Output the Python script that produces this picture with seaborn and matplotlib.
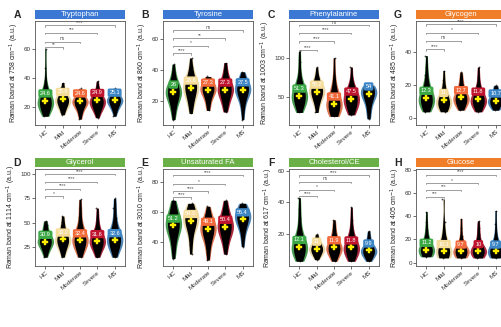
import numpy as np
import pandas as pd
import seaborn as sns
from matplotlib import pyplot as plt
from matplotlib.patches import Rectangle

sns.set_style('white')
plt.rcParams['font.family'] = ['Liberation Sans', 'DejaVu Sans']

groups = ['HC', 'Mild', 'Moderate', 'Severe', 'MS']
colors = ['#3aa845', '#f6dc9a', '#f26a3b', '#c0152f', '#3d86c6']

# panel A - Tryptophan
trp_hc = [14, 16, 18, 19, 20, 21, 22, 22, 23, 23, 24, 24, 25, 25, 26, 27, 28, 30, 33, 38, 47, 60]
trp_mild = [15, 17, 19, 20, 21, 22, 23, 24, 24, 25, 25, 26, 26, 27, 28, 29, 31, 34, 37]
trp_mod = [12, 15, 17, 19, 20, 21, 22, 23, 23, 24, 24, 25, 25, 26, 27, 28, 30, 33]
trp_sev = [13, 16, 18, 19, 20, 21, 22, 23, 24, 24, 25, 25, 26, 27, 28, 30, 33, 38]
trp_ms = [14, 17, 19, 20, 21, 22, 23, 24, 24, 25, 25, 26, 26, 27, 28, 29, 31, 33]
trp_means = [24.6, 25.6, 24.6, 24.9, 25.1]

# panel B - Tyrosine
tyr_hc = [8, 12, 15, 18, 20, 22, 23, 24, 25, 26, 26, 27, 28, 29, 30, 32, 35, 39, 44]
tyr_mild = [12, 16, 19, 22, 24, 26, 27, 28, 29, 30, 31, 32, 33, 35, 38, 42, 48]
tyr_mod = [14, 17, 20, 22, 24, 25, 26, 27, 28, 28, 29, 30, 31, 32, 34, 36]
tyr_sev = [13, 16, 19, 21, 23, 25, 26, 27, 28, 28, 29, 30, 31, 33, 36, 40, 45]
tyr_ms = [8, 14, 18, 21, 23, 25, 26, 27, 28, 28, 29, 30, 31, 33, 35, 39]
tyr_means = [26, 28.6, 27.3, 27.3, 27.5]

# panel C - Phenylalanine
phe_hc = [30, 35, 38, 41, 44, 46, 48, 50, 51, 52, 54, 56, 58, 60, 64, 70, 80, 95, 108]
phe_mild = [30, 38, 44, 48, 51, 53, 55, 57, 58, 59, 61, 63, 66, 70, 76, 88]
phe_mod = [25, 28, 31, 34, 36, 38, 40, 41, 43, 45, 48, 52, 58, 65, 78, 100]
phe_sev = [27, 31, 35, 38, 41, 44, 46, 48, 50, 52, 54, 57, 62, 70, 88]
phe_ms = [22, 30, 38, 44, 48, 51, 53, 55, 57, 59, 61, 63, 65]
phe_means = [51.3, 56.2, 41.1, 47.5, 54.0]

# panel G - Glycogen
gly_hc = [4, 6, 7, 8, 9, 10, 11, 11, 12, 12, 13, 14, 15, 17, 19, 22, 26, 31, 38]
gly_mild = [4, 5, 6, 7, 8, 9, 9, 10, 10, 11, 12, 13, 14, 16, 19, 23, 29]
gly_mod = [5, 6, 8, 9, 10, 11, 11, 12, 12, 13, 14, 15, 16, 18, 21, 24, 28]
gly_sev = [4, 6, 7, 8, 9, 10, 10, 11, 11, 12, 13, 14, 15, 17, 20, 25, 31]
gly_ms = [5, 6, 7, 8, 9, 10, 10, 11, 11, 12, 13, 14, 16, 18, 20]
gly_means = [12.3, 11.0, 12.7, 11.8, 10.7]

# panel D - Glycerol
glr_hc = [15, 19, 22, 25, 27, 28, 29, 30, 31, 32, 33, 34, 35, 37, 40, 44, 48, 52]
glr_mild = [15, 20, 23, 26, 28, 30, 31, 32, 33, 34, 35, 36, 38, 41, 45, 51, 57]
glr_mod = [15, 20, 24, 27, 29, 30, 31, 32, 33, 34, 35, 36, 38, 42, 48, 56, 65, 74]
glr_sev = [15, 19, 23, 26, 28, 29, 30, 31, 32, 33, 34, 35, 37, 41, 47, 55, 65]
glr_ms = [15, 20, 24, 27, 29, 31, 32, 33, 34, 35, 36, 38, 41, 47, 55, 65, 75]
glr_means = [30.9, 33.2, 32.4, 31.6, 32.6]

# panel E - Unsaturated FA
ufa_hc = [29, 34, 38, 42, 45, 47, 49, 50, 51, 52, 53, 54, 55, 57, 59, 62, 65, 68]
ufa_mild = [32, 38, 43, 47, 50, 52, 53, 54, 55, 56, 57, 58, 60, 62, 64, 66]
ufa_mod = [28, 33, 38, 41, 44, 46, 47, 48, 49, 50, 51, 52, 54, 56, 60, 64]
ufa_sev = [32, 37, 41, 44, 46, 48, 49, 50, 51, 52, 53, 55, 57, 60, 64, 68]
ufa_ms = [37, 43, 47, 50, 52, 54, 55, 56, 57, 58, 59, 60, 62, 64, 66]
ufa_means = [51.2, 54.3, 49.1, 50.4, 55.4]

# panel F - Cholesterol/CE
cho_hc = [3, 5, 7, 8, 9, 10, 11, 11, 12, 12, 13, 14, 15, 17, 20, 24, 30, 36, 43]
cho_mild = [4, 6, 7, 8, 9, 10, 10, 11, 11, 12, 13, 14, 15, 17, 20]
cho_mod = [3, 5, 7, 8, 9, 10, 11, 11, 12, 12, 13, 14, 16, 18, 21, 25, 29]
cho_sev = [3, 5, 7, 8, 9, 10, 11, 11, 12, 12, 13, 14, 16, 19, 23, 29, 37]
cho_ms = [3, 5, 6, 7, 8, 9, 9, 10, 10, 11, 12, 13, 15, 18, 22]
cho_means = [12.1, 11.0, 11.9, 11.8, 9.9]

# panel H - Glucose
glc_hc = [5, 6, 7, 8, 9, 9, 10, 10, 11, 11, 12, 13, 14, 16, 19, 23, 28, 35, 44]
glc_mild = [4, 5, 6, 7, 8, 8, 9, 9, 10, 10, 11, 12, 14, 17, 22, 28, 35, 55]
glc_mod = [4, 5, 6, 7, 8, 8, 9, 9, 10, 10, 11, 12, 13, 15, 18, 23, 30, 38]
glc_sev = [4, 5, 6, 7, 8, 9, 9, 10, 10, 11, 11, 12, 14, 16, 20, 25, 30, 36]
glc_ms = [4, 5, 6, 7, 8, 8, 9, 9, 10, 10, 11, 12, 13, 15, 19, 25, 33, 45]
glc_means = [11.2, 10.1, 9.7, 10.0, 9.7]

panels = [
    ('A', 'Tryptophan', '758', [trp_hc, trp_mild, trp_mod, trp_sev, trp_ms], trp_means,
     (8, 79), [20, 40, 60], [61, 65, 71, 76], ['**', 'ns', '***', '****'], '#3b78d4'),
    ('B', 'Tyrosine', '860', [tyr_hc, tyr_mild, tyr_mod, tyr_sev, tyr_ms], tyr_means,
     (4.5, 72), [20, 40, 60], [51, 56, 61, 66], ['****', '*', '**', 'ns'], '#3b78d4'),
    ('C', 'Phenylalanine', '1003', [phe_hc, phe_mild, phe_mod, phe_sev, phe_ms], phe_means,
     (14, 147), [50, 100], [110, 121, 132, 142], ['****', '****', '****', 'ns'], '#3b78d4'),
    ('G', 'Glycogen', '485', [gly_hc, gly_mild, gly_mod, gly_sev, gly_ms], gly_means,
     (-4, 59), [0, 20, 40], [42, 47, 52, 57], ['****', 'ns', '*', '****'], '#f07d27'),
    ('D', 'Glycerol', '1114', [glr_hc, glr_mild, glr_mod, glr_sev, glr_ms], glr_means,
     (6, 105), [25, 50, 75, 100], [77, 85, 92, 100], ['*', '****', '****', '****'], '#6bb047'),
    ('E', 'Unsaturated FA', '3010', [ufa_hc, ufa_mild, ufa_mod, ufa_sev, ufa_ms], ufa_means,
     (24, 89), [40, 60, 80], [70, 74, 79, 85], ['****', '****', '*', '****'], '#6bb047'),
    ('F', 'Cholesterol/CE', '617', [cho_hc, cho_mild, cho_mod, cho_sev, cho_ms], cho_means,
     (0, 61), [20, 40, 60], [44, 48, 53, 57], ['****', '*', 'ns', '****'], '#6bb047'),
    ('H', 'Glucose', '405', [glc_hc, glc_mild, glc_mod, glc_sev, glc_ms], glc_means,
     (-3, 81), [0, 20, 40, 60, 80], [57, 63, 69, 76], ['***', '***', '*', '****'], '#f07d27'),
]

W, H = 502, 327
fig = plt.figure(figsize=(W / 100, H / 100), dpi=100)
col_left = [35, 163, 289, 416]
rows = [(21, 125), (169, 266)]

for k, (letter, title, band, vals, means, ylim, yticks, br_y, br_lab, bar_col) in enumerate(panels):
    top, bot = rows[k // 4]
    left = col_left[k % 4]
    ax = fig.add_axes([left / W, 1 - bot / H, 90 / W, (bot - top) / H])

    df = pd.DataFrame({'group': np.repeat(groups, [len(v) for v in vals]),
                       'value': np.concatenate(vals)})

    sns.violinplot(data=df, x='group', y='value', hue='group', palette=colors,
                   order=groups, inner=None, cut=0, width=0.95, density_norm='width',
                   linewidth=0, legend=False, ax=ax)
    sns.violinplot(data=df, x='group', y='value', order=groups, color='black',
                   inner=None, cut=0, width=0.68, density_norm='width',
                   linewidth=0, ax=ax)
    sns.stripplot(data=df, x='group', y='value', order=groups, color='black',
                  size=1.3, jitter=0.08, alpha=0.7, ax=ax)

    rng = ylim[1] - ylim[0]
    ax.scatter(range(5), means, marker='P', s=22, color='#ffee00',
               edgecolor='#ffee00', linewidth=0.3, zorder=5)
    for i, m in enumerate(means):
        ax.text(i, m + 0.07 * rng, f'{m:g}', ha='center', va='center', fontsize=4,
                color='white', zorder=6,
                bbox=dict(boxstyle='round,pad=0.3', facecolor=colors[i], edgecolor='none'))

    # significance brackets vs HC
    tip = 0.015 * rng
    for j, (yb, lab) in enumerate(zip(br_y, br_lab)):
        ax.plot([0, 0, j + 1, j + 1], [yb - tip, yb, yb, yb - tip], color='#777777', lw=0.5)
        ax.text((j + 1) / 2, yb + 0.003 * rng, lab, ha='center', va='bottom',
                fontsize=3.5, color='#555555')

    ax.set_ylim(ylim)
    ax.set_xlim(-0.6, 4.6)
    ax.set_yticks(yticks)
    ax.set_xlabel('')
    ax.set_ylabel('Raman band at ' + band + ' cm$^{-1}$ (a.u.)', fontsize=5, labelpad=2)
    ax.set_xticks(range(5))
    ax.set_xticklabels(groups, rotation=40, ha='right', rotation_mode='anchor')
    ax.tick_params(axis='both', labelsize=4.5, length=2, width=0.5, pad=1,
                   colors='#333333', left=True, bottom=True)
    for s in ax.spines.values():
        s.set_color('#555555')
        s.set_linewidth(0.6)

    hpx = bot - top
    ax.add_patch(Rectangle((0, 1 + 2 / hpx), 1, 9 / hpx, transform=ax.transAxes,
                           facecolor=bar_col, edgecolor='none', clip_on=False))
    ax.text(0.5, 1 + 6.5 / hpx, title, transform=ax.transAxes, ha='center', va='center',
            fontsize=5.5, color='white')
    ax.text(-0.2, 1 + 6.5 / hpx, letter, transform=ax.transAxes, ha='center', va='center',
            fontsize=7.5, fontweight='bold')

fig.savefig('out.png', dpi=100)
